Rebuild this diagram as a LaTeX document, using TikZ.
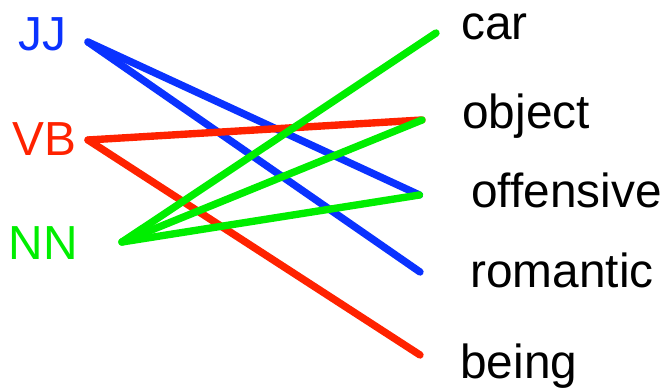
\documentclass[tikz,border=0pt]{standalone}
\usepackage{fontspec}
\setmainfont{Liberation Sans}
\usetikzlibrary{positioning,calc}
\definecolor{tagblue}{RGB}{10,50,255}
\definecolor{tagred}{RGB}{255,34,0}
\definecolor{taggreen}{RGB}{0,238,0}

\begin{document}
\begin{tikzpicture}[
  word/.style={anchor=base west, inner sep=0pt, font=\fontsize{27.2}{30}\selectfont},
  link/.style={line width=4.2pt, line cap=round, line join=round}]
\useasboundingbox (0,0) rectangle (13.34,7.8);
% tags
\node[word, text=tagblue] (jj) at (0.36,6.78) {JJ};
\node[word, text=tagred] (vb) at (0.24,4.68) {VB};
\node[word, text=taggreen] (nn) at (0.17,2.6) {NN};

% words
\node[word] (car) at (9.22,7.0) {car};
\node[word] (object) at (9.24,5.22) {object};
\node[word] (offensive) at (9.42,3.64) {offensive};
\node[word] (romantic) at (9.40,2.05) {romantic};
\node[word] (being) at (9.20,0.22) {being};

% line ends
\coordinate (jj-r) at (1.76,6.96);
\coordinate (vb-r) at (1.76,5.0);
\coordinate (nn-r) at (2.44,2.96);
\coordinate (car-l) at (8.72,7.14);
\coordinate (object-l) at (8.44,5.40);
\coordinate (offensive-l) at (8.39,3.90);
\coordinate (romantic-l) at (8.40,2.36);
\coordinate (being-l) at (8.40,0.70);

% links
\draw[link, tagblue] (jj-r) -- (offensive-l);
\draw[link, tagblue] (jj-r) -- (romantic-l);
\draw[link, tagred] (vb-r) -- (object-l);
\draw[link, tagred] (vb-r) -- (being-l);
\draw[link, taggreen] (nn-r) -- (car-l);
\draw[link, taggreen] (nn-r) -- (object-l);
\draw[link, taggreen] (nn-r) -- (offensive-l);
\end{tikzpicture}
\end{document}
